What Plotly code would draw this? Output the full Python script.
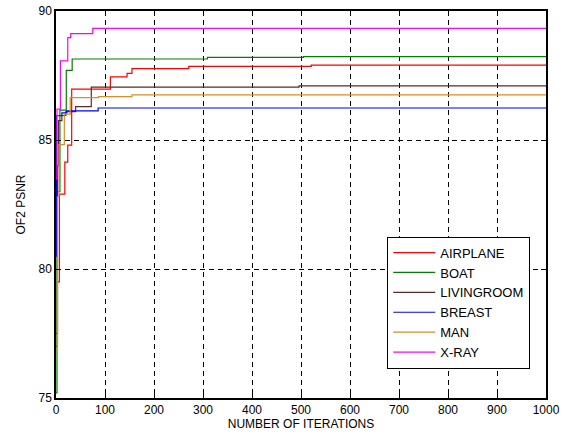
import plotly.graph_objects as go

names = ["AIRPLANE", "BOAT", "LIVINGROOM", "BREAST", "MAN", "X-RAY"]
colors = ["#ff0000", "#008000", "#5a2a2a", "#0000ff", "#e08a2a", "#ff00ff"]

airplane_x = [0, 3, 7, 18, 24, 32, 111, 145, 155, 271, 521, 1000]
airplane_y = [77.0, 79.5, 82.9, 84.14, 84.8, 86.97, 87.45, 87.58, 87.77, 87.85, 87.9, 87.9]

boat_x = [0, 2, 8, 21, 33, 309, 505, 1000]
boat_y = [75.2, 83.0, 86.16, 87.7, 88.14, 88.2, 88.23, 88.23]

living_x = [0, 3, 5, 12, 20, 40, 72, 496, 1000]
living_y = [77.5, 84.0, 85.75, 85.95, 86.1, 86.29, 87.05, 87.1, 87.1]

breast_x = [0, 1, 12, 22, 86, 1000]
breast_y = [80.5, 85.94, 86.05, 86.13, 86.24, 86.24]

man_x = [0, 3, 6, 17, 29, 87, 155, 1000]
man_y = [76.5, 82.8, 84.82, 86.0, 86.64, 86.68, 86.75, 86.75]

xray_x = [0, 2, 9, 24, 30, 75, 1000]
xray_y = [83.5, 86.2, 88.07, 88.97, 89.12, 89.33, 89.33]

series_x = [airplane_x, boat_x, living_x, breast_x, man_x, xray_x]
series_y = [airplane_y, boat_y, living_y, breast_y, man_y, xray_y]

x_ticks = [0, 100, 200, 300, 400, 500, 600, 700, 800, 900, 1000]
y_ticks = [75, 80, 85, 90]

fig = go.Figure()
for n, c, xs, ys in zip(names, colors, series_x, series_y):
    fig.add_trace(go.Scatter(x=xs, y=ys, mode="lines", name=n,
                             line=dict(color=c, width=1.2, shape="hv")))

axis_common = dict(showline=True, linecolor="black", linewidth=1.5, mirror="ticks",
                   ticks="inside", ticklen=5, tickcolor="black",
                   showgrid=True, gridcolor="black", griddash="5px,4px", gridwidth=1,
                   zeroline=False, automargin=False,
                   tickfont=dict(size=12, color="black"))

fig.update_xaxes(range=[0, 1000], tickvals=x_ticks,
                 title=dict(text="NUMBER OF ITERATIONS", font=dict(size=12, color="black"), standoff=2),
                 **axis_common)
fig.update_yaxes(range=[75, 90], tickvals=y_ticks,
                 title=dict(text="OF2 PSNR", font=dict(size=12, color="black"), standoff=10),
                 **axis_common)

fig.update_layout(
    width=564, height=440,
    margin=dict(l=56, r=18, t=11, b=42, autoexpand=False),
    paper_bgcolor="white", plot_bgcolor="white",
    font=dict(family="Liberation Sans, Arial, sans-serif", size=12, color="black"),
    legend=dict(x=0.676, y=0.417, xanchor="left", yanchor="top",
                bgcolor="white", bordercolor="black", borderwidth=1,
                font=dict(size=13), tracegroupgap=0, itemwidth=42),
    showlegend=True,
)

fig.write_html("out.html", config={"displayModeBar": False},
               post_script="document.body.style.margin='0';")
